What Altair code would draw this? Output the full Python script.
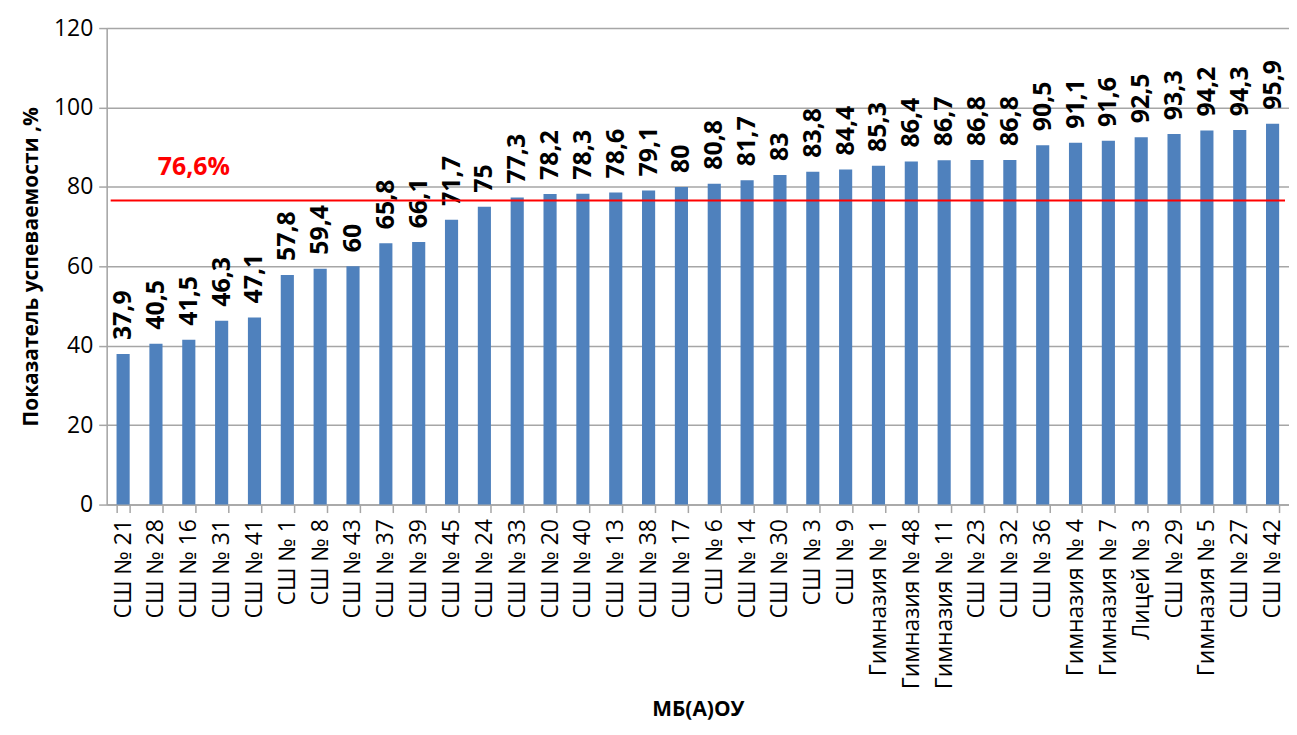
import altair as alt
import pandas as pd

schools = [
    "СШ № 21", "СШ № 28", "СШ № 16", "СШ № 31", "СШ № 41", "СШ № 1", "СШ № 8",
    "СШ № 43", "СШ № 37", "СШ № 39", "СШ № 45", "СШ № 24", "СШ № 33", "СШ № 20",
    "СШ № 40", "СШ № 13", "СШ № 38", "СШ № 17", "СШ № 6", "СШ № 14", "СШ № 30",
    "СШ № 3", "СШ № 9", "Гимназия № 1", "Гимназия № 48", "Гимназия № 11",
    "СШ № 23", "СШ № 32", "СШ № 36", "Гимназия № 4", "Гимназия № 7", "Лицей № 3",
    "СШ № 29", "Гимназия № 5", "СШ № 27", "СШ № 42",
]
values = [
    37.9, 40.5, 41.5, 46.3, 47.1, 57.8, 59.4, 60, 65.8, 66.1, 71.7, 75, 77.3, 78.2,
    78.3, 78.6, 79.1, 80, 80.8, 81.7, 83, 83.8, 84.4, 85.3, 86.4, 86.7, 86.8, 86.8,
    90.5, 91.1, 91.6, 92.5, 93.3, 94.2, 94.3, 95.9,
]
y_ticks = [0, 20, 40, 60, 80, 100, 120]
avg_value = 76.6
avg_label = "76,6%"
avg_anchor = "СШ № 16"

df = pd.DataFrame({"school": schools, "value": values})
df["label"] = [f"{v:g}".replace(".", ",") for v in values]
avg_df = pd.DataFrame({"school": [avg_anchor], "value": [avg_value], "label": [avg_label]})

FONT = "Open Sans"
W, H = 1186, 478
GRID = "#A6A6A6"

x_enc = alt.X(
    "school:N",
    sort=None,
    title="МБ(А)ОУ",
    scale=alt.Scale(paddingInner=0.6, paddingOuter=0.3),
    axis=alt.Axis(
        labelAngle=-90,
        labelFontSize=23,
        labelColor="black",
        labelFont=FONT,
        labelPadding=6,
        tickBand="extent",
        tickSize=8,
        tickColor=GRID,
        tickWidth=1.5,
        domainColor=GRID,
        domainWidth=1.5,
        titleFontSize=21,
        titleFontWeight="bold",
        titleColor="black",
        titleFont=FONT,
        titlePadding=10,
    ),
)
y_enc = alt.Y(
    "value:Q",
    title="Показатель успеваемости ,%",
    scale=alt.Scale(domain=[0, 120], nice=False),
    axis=alt.Axis(
        values=y_ticks,
        labelFontSize=23,
        labelColor="black",
        labelFont=FONT,
        labelPadding=6,
        tickSize=8,
        tickColor=GRID,
        tickWidth=1.5,
        domainColor=GRID,
        domainWidth=1.5,
        gridColor=GRID,
        gridWidth=1.5,
        titleFontSize=21,
        titleFontWeight="bold",
        titleColor="black",
        titleFont=FONT,
        titlePadding=12,
    ),
)

bars = alt.Chart(df).mark_bar(color="#4F81BD").encode(x=x_enc, y=y_enc)

labels = alt.Chart(df).mark_text(
    angle=270, align="left", baseline="middle", dx=14,
    fontSize=25, fontWeight="bold", font=FONT, color="black",
).encode(x=alt.X("school:N", sort=None), y="value:Q", text="label:N")

rule = alt.Chart(avg_df).mark_rule(color="#FF0000", strokeWidth=2).encode(
    y="value:Q", x=alt.value(4), x2=alt.value(W - 4)
)

avg_text = alt.Chart(avg_df).mark_text(
    align="center", baseline="middle", dy=-33, dx=5,
    fontSize=25, fontWeight="bold", font=FONT, color="#FF0000",
).encode(x=alt.X("school:N", sort=None), y="value:Q", text="label:N")

chart = (
    alt.layer(bars, labels, rule, avg_text)
    .properties(width=W, height=H, padding={"left": 12, "top": 8, "right": 0, "bottom": 7})
    .configure_view(stroke=None)
    .configure(font=FONT)
)

chart.save("out.html", embed_options={"renderer": "svg", "actions": False})
